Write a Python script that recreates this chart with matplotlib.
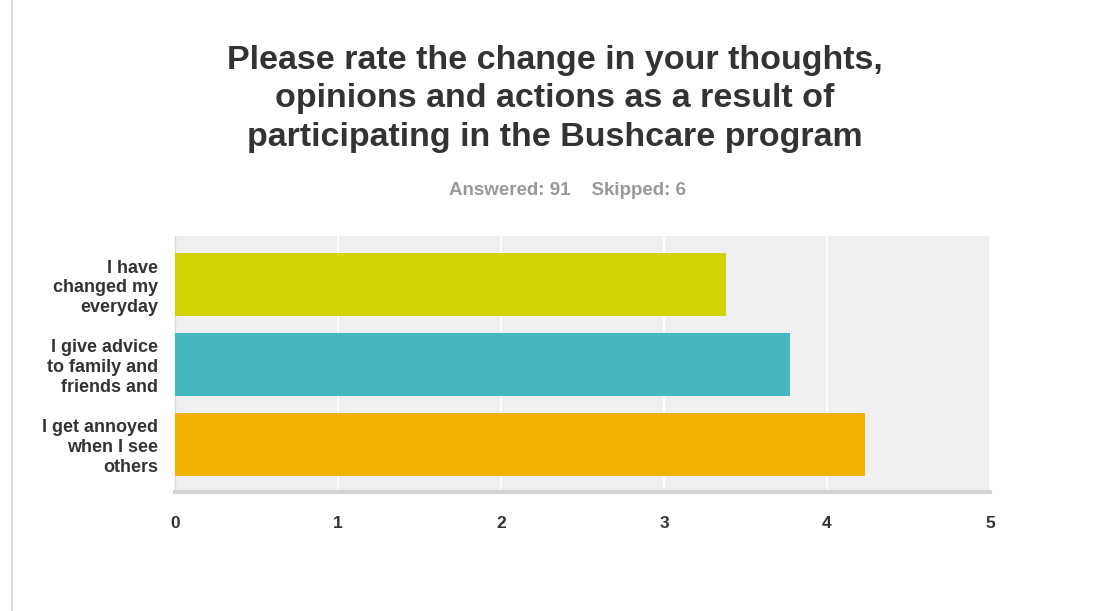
import matplotlib.pyplot as plt
from matplotlib.lines import Line2D

plt.rcParams['font.family'] = ['Liberation Sans', 'DejaVu Sans']

labels = ['I have\nchanged my\neveryday', 'I give advice\nto family and\nfriends and', 'I get annoyed\nwhen I see\nothers']
values = [3.38, 3.77, 4.23]
colors = ['#d0d400', '#45b7bf', '#f2b000']
xticks = [0, 1, 2, 3, 4, 5]

fig = plt.figure(figsize=(11.1, 6.11), dpi=100)
ax = fig.add_axes([0.1577, 0.1948, 0.7342, 0.4190])
ax.set_facecolor('#efefef')

ax.barh(range(len(values)), values, height=0.79, color=colors, zorder=3)
ax.set_ylim(2.6, -0.608)
ax.set_xlim(0, 5)
ax.set_xticks(xticks)
ax.set_xticklabels([str(t) for t in xticks], fontsize=12.5, fontweight='bold', color='#333333')
ax.set_yticks(range(len(values)))
ax.set_yticklabels(labels, fontsize=13, fontweight='bold', color='#333333', linespacing=1.22)
ax.tick_params(axis='both', length=0)
ax.tick_params(axis='x', pad=17)
ax.tick_params(axis='y', pad=12)
ax.grid(axis='x', color='white', linewidth=1.2, zorder=1)
for s in ['top', 'right']:
    ax.spines[s].set_visible(False)
ax.spines['left'].set_color('#d9d9d9')
ax.spines['left'].set_linewidth(1)
ax.spines['bottom'].set_color('#d3d3d3')
ax.spines['bottom'].set_linewidth(3)

fig.text(0.5, 0.838, 'Please rate the change in your thoughts,\nopinions and actions as a result of\nparticipating in the Bushcare program',
         ha='center', va='center', fontsize=24.5, fontweight='bold', color='#333333', linespacing=1.3)
fig.text(0.511, 0.689, 'Answered: 91    Skipped: 6', ha='center', va='center',
         fontsize=13.5, fontweight='bold', color='#999999')

fig.add_artist(Line2D([0.011, 0.011], [0, 1], transform=fig.transFigure, color='#dddddd', linewidth=1.5))

fig.savefig('out.png', dpi=100)
